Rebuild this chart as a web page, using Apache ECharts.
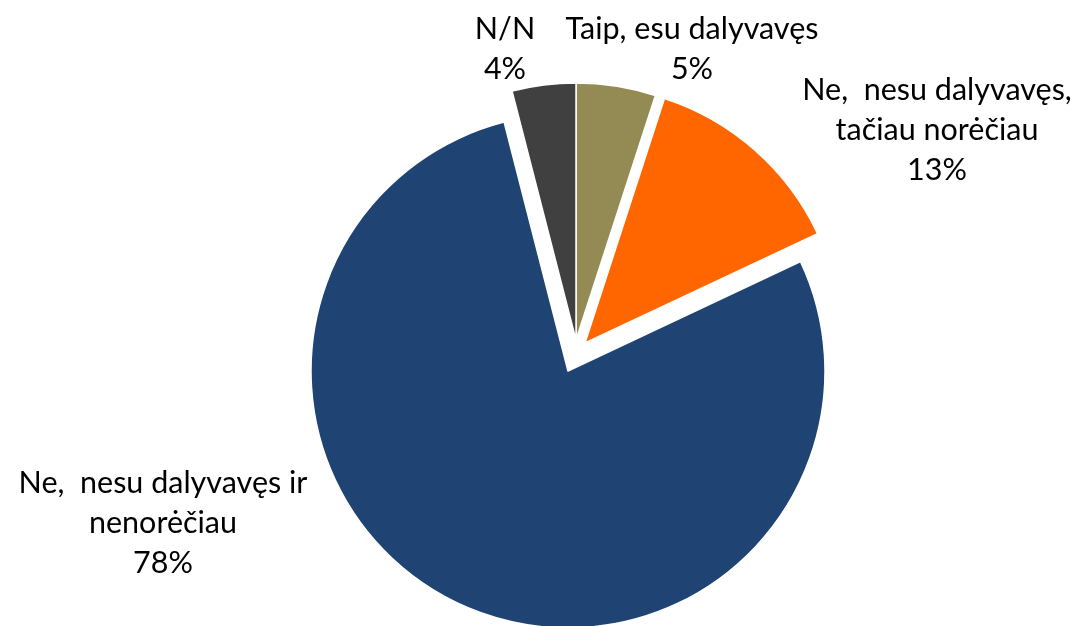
<!DOCTYPE html>
<html>
<head>
<meta charset="utf-8">
<script src="https://cdn.jsdelivr.net/npm/echarts@6/dist/echarts.min.js"></script>
<style>html,body{margin:0;padding:0;background:#fff;}#c{width:1082px;height:626px;}</style>
</head>
<body>
<div id="c"></div>
<script>
// Data
const categories = ['Taip, esu dalyvavęs', 'Ne,  nesu dalyvavęs,\ntačiau norėčiau', 'Ne,  nesu dalyvavęs ir\nnenorėčiau', 'N/N'];
const values = [5, 13, 78, 4];

// Styles / layout
const colors = ['#948A54', '#FF6600', '#1F4474', '#404040'];
const labelPos = [[692, 49], [937, 130], [163, 523], [505, 49]];
// which slices each pie layer draws, and its centre
const layers = [
  { show: [0, 3], center: [576, 340] },
  { show: [1], center: [585, 343] },
  { show: [2], center: [568, 371] }
];
const radius = 257;

const chart = echarts.init(document.getElementById('c'), null, { renderer: 'canvas' });
const series = layers.map(layer => ({
  type: 'pie',
  center: layer.center,
  radius: radius,
  startAngle: 90,
  clockwise: true,
  silent: true,
  animation: false,
  avoidLabelOverlap: false,
  labelLine: { show: false },
  emphasis: { disabled: true },
  data: categories.map((name, i) => {
    const vis = layer.show.indexOf(i) >= 0;
    return {
      name: name,
      value: values[i],
      itemStyle: vis ? { color: colors[i], borderColor: '#ffffff', borderWidth: 1.5 }
                     : { color: 'rgba(0,0,0,0)', borderWidth: 0 },
      label: { show: vis }
    };
  }),
  label: {
    position: 'outside',
    formatter: p => p.name + '\n' + Math.round(p.percent) + '%',
    fontFamily: 'Lato, "Liberation Sans", sans-serif',
    fontSize: 30.5,
    lineHeight: 40,
    color: '#000',
    align: 'center'
  },
  labelLayout: p => ({
    x: labelPos[p.dataIndex][0],
    y: labelPos[p.dataIndex][1],
    align: 'center',
    verticalAlign: 'middle'
  })
}));

chart.setOption({ backgroundColor: '#ffffff', series: series });
</script>
</body>
</html>
